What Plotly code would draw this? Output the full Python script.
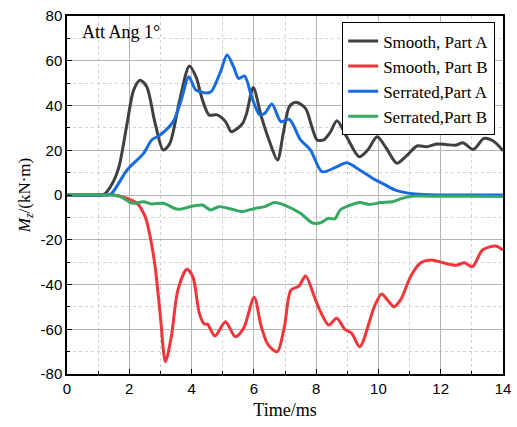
import plotly.graph_objects as go

# Smooth, Part A
sa_x = [0, 1.0, 1.2, 1.45, 1.67, 1.93, 2.14, 2.35, 2.56, 2.83, 3.09, 3.3, 3.62, 3.93, 4.14, 4.35, 4.56, 4.82, 5.09, 5.27, 5.45, 5.64, 5.77, 5.98, 6.24, 6.5, 6.76, 6.95, 7.14, 7.35, 7.66, 7.85, 8.03, 8.24, 8.45, 8.67, 8.98, 9.38, 9.65, 9.96, 10.25, 10.59, 10.9, 11.24, 11.55, 11.87, 12.2, 12.5, 12.71, 13.05, 13.39, 13.7, 14.0]
sa_y = [0, 0, 0.4, 5, 12.7, 32, 46.9, 51.3, 48.4, 32, 20.1, 23, 42.5, 57.7, 52.9, 42.5, 35.8, 35.8, 32.8, 28.3, 29.5, 32, 36.6, 48.1, 35, 24, 15.6, 28, 39.5, 41.5, 38.7, 31, 24.6, 24.6, 28, 33.2, 26, 17.1, 20, 26, 21, 14.2, 17.5, 21.9, 21.6, 22.8, 22.5, 22.3, 23.4, 20.4, 25.3, 24, 19.8]

# Smooth, Part B
sb_x = [0, 1.2, 1.51, 1.93, 2.25, 2.51, 2.67, 2.83, 2.99, 3.16, 3.35, 3.56, 3.85, 4.04, 4.25, 4.41, 4.51, 4.75, 5.09, 5.4, 5.67, 6.01, 6.24, 6.46, 6.75, 6.98, 7.19, 7.45, 7.66, 7.98, 8.14, 8.4, 8.66, 8.92, 9.14, 9.4, 9.87, 10.1, 10.29, 10.5, 10.71, 11.03, 11.34, 11.71, 12.08, 12.5, 12.76, 13.02, 13.34, 13.76, 14.0]
sb_y = [0, 0, 0, -1.5, -3.7, -9.7, -18.6, -32, -52.9, -74.5, -63.3, -42.5, -33.2, -36.5, -52.9, -57.7, -57.7, -63, -56.6, -63.3, -59.6, -45.7, -58.9, -67, -70, -58.9, -42.5, -40.7, -36.2, -46.9, -52.1, -58.1, -55.1, -60, -61.8, -67.8, -49.9, -44.2, -46.9, -49.9, -46.9, -36.5, -30.5, -29, -30.3, -31.4, -30.3, -32, -24.6, -22.8, -24.6]

# Serrated, Part A
ra_x = [0, 1.2, 1.41, 1.93, 2.46, 2.72, 2.99, 3.41, 3.67, 3.91, 4.14, 4.56, 4.67, 4.93, 5.14, 5.35, 5.51, 5.7, 5.93, 6.19, 6.35, 6.58, 6.87, 7.14, 7.5, 7.82, 8.19, 8.66, 8.98, 9.4, 9.82, 10.13, 10.55, 11.19, 12.0, 13.0, 14.0]
ra_y = [0, 0, 0.4, 11.2, 18.6, 24.6, 26.8, 32.8, 42.5, 52.9, 46.9, 45.7, 46.9, 55.1, 62.6, 57.3, 52.1, 53.2, 43.9, 35.8, 36.5, 40.7, 32.8, 33.8, 24.6, 20.1, 10.4, 12.6, 14.4, 11.2, 7.4, 5.2, 2.2, 0.4, 0, 0, 0]

# Serrated, Part B
rb_x = [0, 1.4, 1.72, 2.09, 2.46, 2.72, 3.09, 3.56, 4.04, 4.35, 4.61, 4.88, 5.3, 5.61, 6.03, 6.35, 6.66, 6.98, 7.5, 7.87, 8.14, 8.4, 8.6, 8.77, 9.03, 9.4, 9.71, 10.08, 10.45, 10.76, 11.13, 12.0, 13.0, 14.0]
rb_y = [0, 0, -0.7, -3.7, -3, -4, -3.7, -6.4, -4.9, -4.5, -6.7, -5.2, -6.4, -7.4, -6, -5.2, -3.4, -4.5, -8.2, -12.4, -12.4, -10.4, -10.7, -6.7, -4.9, -3.4, -4.2, -3.4, -3, -1.5, -0.5, -0.6, -0.6, -0.7]

names = ["Smooth, Part A", "Smooth, Part B", "Serrated,Part A", "Serrated,Part B"]
colors = ["#404040", "#f0363b", "#176be0", "#35a862"]

x_ticks = [0, 2, 4, 6, 8, 10, 12, 14]
y_ticks = [-80, -60, -40, -20, 0, 20, 40, 60, 80]

SERIF = "Times New Roman, Liberation Serif, serif"
SANS = "Arial, Liberation Sans, sans-serif"

fig = go.Figure()
for xs, ys, n, c in zip([sa_x, sb_x, ra_x, rb_x], [sa_y, sb_y, ra_y, rb_y], names, colors):
    fig.add_trace(go.Scatter(x=xs, y=ys, mode="lines", name=n,
                             line=dict(color=c, width=3, shape="spline", smoothing=0.8)))

axis_common = dict(
    showline=True, linecolor="black", linewidth=1.5, mirror=True,
    ticks="inside", ticklen=5, tickcolor="black",
    showgrid=True, gridcolor="#b4b4b4", gridwidth=1,
    zeroline=False, ticklabeloverflow="allow",
    tickfont=dict(family=SANS, size=15, color="black"),
)

fig.update_xaxes(range=[0, 14], tickvals=x_ticks, ticktext=[str(v) for v in x_ticks],
                 minor=dict(dtick=1, showgrid=True, gridcolor="#d0d0d0", griddash="dot",
                            ticks="inside", ticklen=3, tickcolor="black"),
                 title=dict(text="Time/ms", font=dict(family=SERIF, size=18, color="black"), standoff=8),
                 **axis_common)
fig.update_yaxes(range=[-80, 80], tickvals=y_ticks, ticktext=[str(v) for v in y_ticks],
                 minor=dict(dtick=10, showgrid=True, gridcolor="#d0d0d0", griddash="dot",
                            ticks="inside", ticklen=3, tickcolor="black"),
                 title=dict(text="<i>M</i><sub><i>z</i></sub>/(kN·m)", font=dict(family=SERIF, size=17, color="black"), standoff=6),
                 **axis_common)

fig.add_annotation(text="Att Ang 1°", xref="paper", yref="paper", x=0.03, y=0.99,
                   xanchor="left", yanchor="top", showarrow=False,
                   font=dict(family=SERIF, size=18, color="black"))

fig.update_layout(
    width=517, height=427,
    margin=dict(l=67, r=6, t=16, b=53),
    paper_bgcolor="white", plot_bgcolor="white",
    legend=dict(x=0.982, y=0.982, xanchor="right", yanchor="top",
                bordercolor="black", borderwidth=1, bgcolor="white",
                font=dict(family=SERIF, size=17, color="black"),
                tracegroupgap=0, itemwidth=30),
    showlegend=True,
)

fig.write_html("out.html")
